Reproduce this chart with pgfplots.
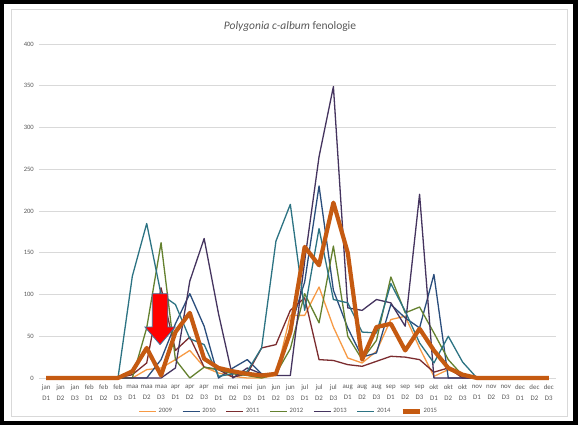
\documentclass[border=0pt]{standalone}
\usepackage{pgfplots}
\pgfplotsset{compat=1.18}
\usepackage{fontspec}
\setmainfont{Carlito}
\definecolor{txtgray}{HTML}{595959}
\definecolor{gridgray}{HTML}{D9D9D9}
\definecolor{c2009}{HTML}{F79A45}
\definecolor{c2010}{HTML}{2A4D7C}
\definecolor{c2011}{HTML}{7B2C2F}
\definecolor{c2012}{HTML}{64812F}
\definecolor{c2013}{HTML}{45345F}
\definecolor{c2014}{HTML}{2C7383}
\definecolor{c2015}{HTML}{C55A11}
\definecolor{arrowedge}{HTML}{41719C}
\begin{document}
\begin{tikzpicture}
\useasboundingbox (0pt,0pt) rectangle (578pt,425pt);
\fill[black] (0pt,0pt) rectangle (578pt,425pt);
\fill[white] (4pt,4pt) rectangle (573pt,421pt);
\draw[gridgray, line width=0.8pt] (11pt,9pt) rectangle (567pt,416pt);
\node[text=txtgray, font=\fontsize{11.5}{13}\selectfont] at (290pt,398pt) {\itshape Polygonia c-album\upshape{} fenologie};
\begin{axis}[
  at={(39pt,47pt)}, anchor=south west,
  scale only axis, width=517pt, height=334pt,
  xmin=-0.5, xmax=35.5, ymin=0, ymax=400,
  axis line style={draw=none},
  major tick length=0pt,
  ytick={0,50,...,400},
  xtick={0,...,35},
  xticklabels={{jan\\D1},{jan\\D2},{jan\\D3},{feb\\D1},{feb\\D2},{feb\\D3},{maa\\D1},{maa\\D2},{maa\\D3},{apr\\D1},{apr\\D2},{apr\\D3},{mei\\D1},{mei\\D2},{mei\\D3},{jun\\D1},{jun\\D2},{jun\\D3},{jul\\D1},{jul\\D2},{jul\\D3},{aug\\D1},{aug\\D2},{aug\\D3},{sep\\D1},{sep\\D2},{sep\\D3},{okt\\D1},{okt\\D2},{okt\\D3},{nov\\D1},{nov\\D2},{nov\\D3},{dec\\D1},{dec\\D2},{dec\\D3}},
  xticklabel style={align=center, font=\fontsize{6.9}{11}\selectfont, text=txtgray, inner sep=0pt, yshift=-6.5pt},
  yticklabel style={font=\fontsize{6.6}{8}\selectfont, text=txtgray, inner sep=0pt, xshift=-5pt},
  /pgf/number format/assume math mode=true,
  ymajorgrids, grid style={gridgray, line width=0.8pt},
  clip=false,
  legend columns=-1,
  legend style={draw=none, fill=none, at={(0.483,-0.100)}, anchor=center,
    font=\fontsize{6.6}{8}\selectfont, text=txtgray,
    /tikz/every even column/.append style={column sep=8pt},
    inner sep=0pt},
  legend image code/.code={\draw[#1, line cap=butt] (0pt,0pt) -- (17pt,0pt);},
  every axis plot/.append style={line join=round},
]
\addplot[c2009, line width=1.3pt] coordinates {(0,0)(1,0)(2,0)(3,0)(4,0)(5,0)(6,0)(7,10)(8,12)(9,22)(10,33)(11,13)(12,6)(13,2)(14,0)(15,0)(16,3)(17,75)(18,75)(19,109)(20,61)(21,24)(22,18)(23,32)(24,70)(25,74)(26,36)(27,2)(28,10)(29,2)(30,0)(31,0)(32,0)(33,0)(34,0)(35,0)};
\addlegendentry{2009}
\addplot[c2010, line width=1.3pt] coordinates {(0,0)(1,0)(2,0)(3,0)(4,0)(5,0)(6,0)(7,0)(8,22)(9,65)(10,101)(11,62)(12,0)(13,12)(14,22)(15,5)(16,5)(17,60)(18,115)(19,230)(20,105)(21,60)(22,25)(23,30)(24,88)(25,72)(26,60)(27,124)(28,0)(29,0)(30,0)(31,0)(32,0)(33,0)(34,0)(35,0)};
\addlegendentry{2010}
\addplot[c2011, line width=1.3pt] coordinates {(0,0)(1,0)(2,0)(3,0)(4,0)(5,0)(6,4)(7,18)(8,108)(9,33)(10,49)(11,13)(12,10)(13,1)(14,5)(15,36)(16,40)(17,81)(18,96)(19,22)(20,21)(21,16)(22,14)(23,20)(24,26)(25,25)(26,22)(27,7)(28,12)(29,0)(30,0)(31,0)(32,0)(33,0)(34,0)(35,0)};
\addlegendentry{2011}
\addplot[c2012, line width=1.3pt] coordinates {(0,0)(1,0)(2,0)(3,0)(4,0)(5,0)(6,0)(7,60)(8,162)(9,22)(10,0)(11,13)(12,10)(13,5)(14,3)(15,0)(16,5)(17,35)(18,101)(19,66)(20,158)(21,50)(22,22)(23,45)(24,121)(25,78)(26,85)(27,54)(28,22)(29,3)(30,0)(31,0)(32,0)(33,0)(34,0)(35,0)};
\addlegendentry{2012}
\addplot[c2013, line width=1.3pt] coordinates {(0,0)(1,0)(2,0)(3,0)(4,0)(5,0)(6,0)(7,0)(8,0)(9,12)(10,116)(11,167)(12,77)(13,0)(14,12)(15,5)(16,3)(17,3)(18,140)(19,265)(20,349)(21,84)(22,81)(23,94)(24,90)(25,62)(26,220)(27,0)(28,0)(29,0)(30,0)(31,0)(32,0)(33,0)(34,0)(35,0)};
\addlegendentry{2013}
\addplot[c2014, line width=1.3pt] coordinates {(0,0)(1,0)(2,0)(3,0)(4,0)(5,0)(6,122)(7,185)(8,100)(9,88)(10,47)(11,40)(12,2)(13,5)(14,8)(15,36)(16,164)(17,208)(18,81)(19,179)(20,94)(21,90)(22,55)(23,54)(24,113)(25,80)(26,42)(27,18)(28,50)(29,19)(30,0)(31,0)(32,0)(33,0)(34,0)(35,0)};
\addlegendentry{2014}
\addplot[c2015, line width=4.2pt] coordinates {(0,0)(1,0)(2,0)(3,0)(4,0)(5,0)(6,8)(7,36)(8,3)(9,55)(10,78)(11,23)(12,12)(13,8)(14,5)(15,3)(16,5)(17,55)(18,157)(19,135)(20,210)(21,150)(22,22)(23,61)(24,65)(25,33)(26,59)(27,33)(28,12)(29,4)(30,0)(31,0)(32,0)(33,0)(34,0)(35,0)};
\addlegendentry{2015}
\filldraw[fill=red, draw=arrowedge, line width=0.8pt, line join=miter]
  (axis cs:7.39,101) -- (axis cs:8.47,101) -- (axis cs:8.47,61) -- (axis cs:8.98,61)
  -- (axis cs:7.93,40) -- (axis cs:6.88,61) -- (axis cs:7.39,61) -- cycle;
\end{axis}
\end{tikzpicture}
\end{document}
